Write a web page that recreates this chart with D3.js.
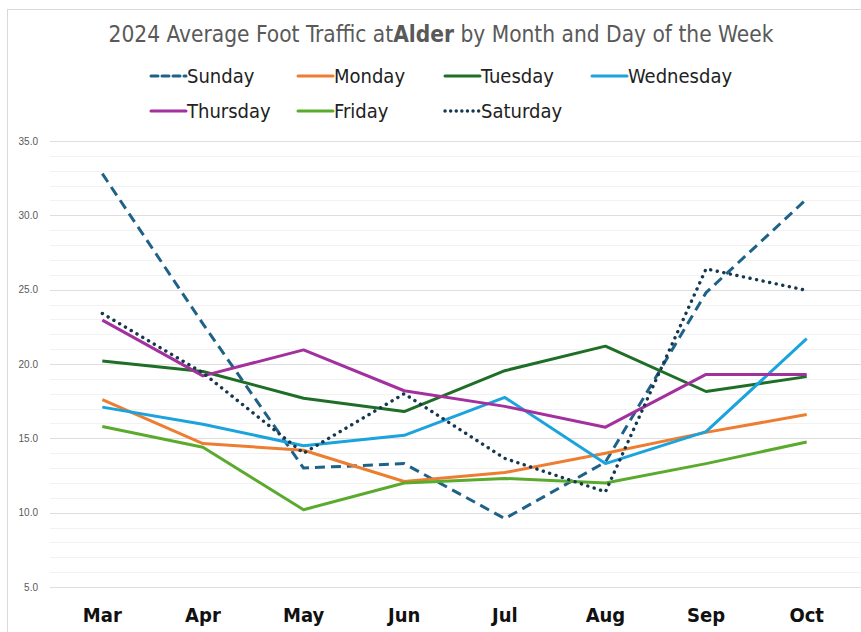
<!DOCTYPE html>
<html>
<head>
<meta charset="utf-8">
<script src="https://cdn.jsdelivr.net/npm/d3@7"></script>
<style>
  body { margin: 0; background: #fff; }
  svg { display: block; }
  text { font-family: "Liberation Sans Narrow", "DejaVu Sans Condensed", "DejaVu Sans", sans-serif; font-stretch: condensed; }
</style>
</head>
<body>
<svg id="chart" width="861" height="632"></svg>
<script>
const months = ['Mar', 'Apr', 'May', 'Jun', 'Jul', 'Aug', 'Sep', 'Oct'];
const days = ['Sunday', 'Monday', 'Tuesday', 'Wednesday', 'Thursday', 'Friday', 'Saturday'];

const sunday    = [32.8, 22.7, 13.0, 13.3, 9.6, 13.4, 24.8, 31.1];
const monday    = [17.6, 14.65, 14.2, 12.1, 12.7, 14.0, 15.4, 16.6];
const tuesday   = [20.2, 19.5, 17.7, 16.8, 19.55, 21.2, 18.15, 19.15];
const wednesday = [17.1, 15.95, 14.5, 15.2, 17.75, 13.3, 15.45, 21.7];
const thursday  = [22.95, 19.2, 20.95, 18.2, 17.15, 15.75, 19.3, 19.3];
const friday    = [15.8, 14.4, 10.2, 12.0, 12.3, 12.0, 13.3, 14.75];
const saturday  = [23.4, 19.4, 14.0, 18.0, 13.65, 11.4, 26.4, 24.95];

const yTicks = [5, 10, 15, 20, 25, 30, 35];

const seriesValues = [sunday, monday, tuesday, wednesday, thursday, friday, saturday];
const colors = ['#1f6287', '#ed7d31', '#1f6e27', '#1ba3dd', '#a2319d', '#5aab2d', '#16384e'];
const dashes = ['10 6', null, null, null, null, null, '0.1 6.6'];

const svg = d3.select('#chart');

// chart frame
svg.append('rect')
  .attr('x', 7.5).attr('y', 9.5)
  .attr('width', 900).attr('height', 700)
  .attr('fill', 'none').attr('stroke', '#d9d9d9');

const x = d3.scaleBand().domain(months).range([52, 857]);
const y = d3.scaleLinear().domain([5, 35]).range([587, 141]);

// minor gridlines every 1.0, major every 5.0
svg.append('g')
  .selectAll('line')
  .data(d3.range(5, 36, 1).filter(v => v % 5 !== 0))
  .join('line')
  .attr('x1', 50).attr('x2', 861)
  .attr('y1', d => Math.round(y(d)) + 0.5).attr('y2', d => Math.round(y(d)) + 0.5)
  .attr('stroke', '#f2f2f2');

svg.append('g')
  .selectAll('line')
  .data(yTicks)
  .join('line')
  .attr('x1', 50).attr('x2', 861)
  .attr('y1', d => Math.round(y(d)) + 0.5).attr('y2', d => Math.round(y(d)) + 0.5)
  .attr('stroke', '#dedede');

// y axis labels
const yAxis = svg.append('g')
  .attr('transform', 'translate(38,0)')
  .call(d3.axisLeft(y).tickValues(yTicks).tickFormat(d3.format('.1f')).tickSize(0).tickPadding(0));
yAxis.select('.domain').remove();
yAxis.selectAll('text')
  .attr('fill', '#595959')
  .style('font-size', '10px')
  .style('font-family', '"Liberation Sans", sans-serif');

// x axis labels
const xAxis = svg.append('g')
  .attr('transform', 'translate(0,608)')
  .call(d3.axisBottom(x).tickSize(0).tickPadding(0));
xAxis.select('.domain').remove();
xAxis.selectAll('text')
  .attr('fill', '#111')
  .style('font-size', '20px')
  .style('font-weight', 'bold');

// lines
const line = d3.line()
  .x((d, i) => x(months[i]) + x.bandwidth() / 2)
  .y(d => y(d));

svg.append('g')
  .selectAll('path')
  .data(seriesValues)
  .join('path')
  .attr('d', d => line(d))
  .attr('fill', 'none')
  .attr('stroke', (d, i) => colors[i])
  .attr('stroke-width', (d, i) => i === 6 ? 3.4 : 3)
  .attr('stroke-dasharray', (d, i) => dashes[i])
  .attr('stroke-linecap', (d, i) => i === 6 ? 'round' : 'butt')
  .attr('stroke-linejoin', 'round');

// title
const title = svg.append('text')
  .attr('x', 441).attr('y', 42)
  .attr('text-anchor', 'middle')
  .attr('fill', '#595959')
  .style('font-size', '22.5px');
title.append('tspan').text('2024 Average Foot Traffic at');
title.append('tspan').attr('font-weight', 'bold').text('Alder');
title.append('tspan').text(' by Month and Day of the Week');

// legend
const legend = svg.append('g')
  .selectAll('g')
  .data(days)
  .join('g')
  .attr('transform', (d, i) => `translate(${150 + (i % 4) * 147},${i < 4 ? 76 : 111})`);

legend.append('line')
  .attr('x1', 1).attr('x2', 36)
  .attr('stroke', (d, i) => colors[i])
  .attr('stroke-width', (d, i) => i === 6 ? 3.4 : 3)
  .attr('stroke-dasharray', (d, i) => i === 0 ? '7 4' : (i === 6 ? '0.1 5.5' : null))
  .attr('stroke-linecap', 'round');

legend.append('text')
  .attr('x', 37).attr('y', 7)
  .attr('fill', '#222')
  .style('font-size', '20px')
  .text(d => d);
</script>
</body>
</html>
